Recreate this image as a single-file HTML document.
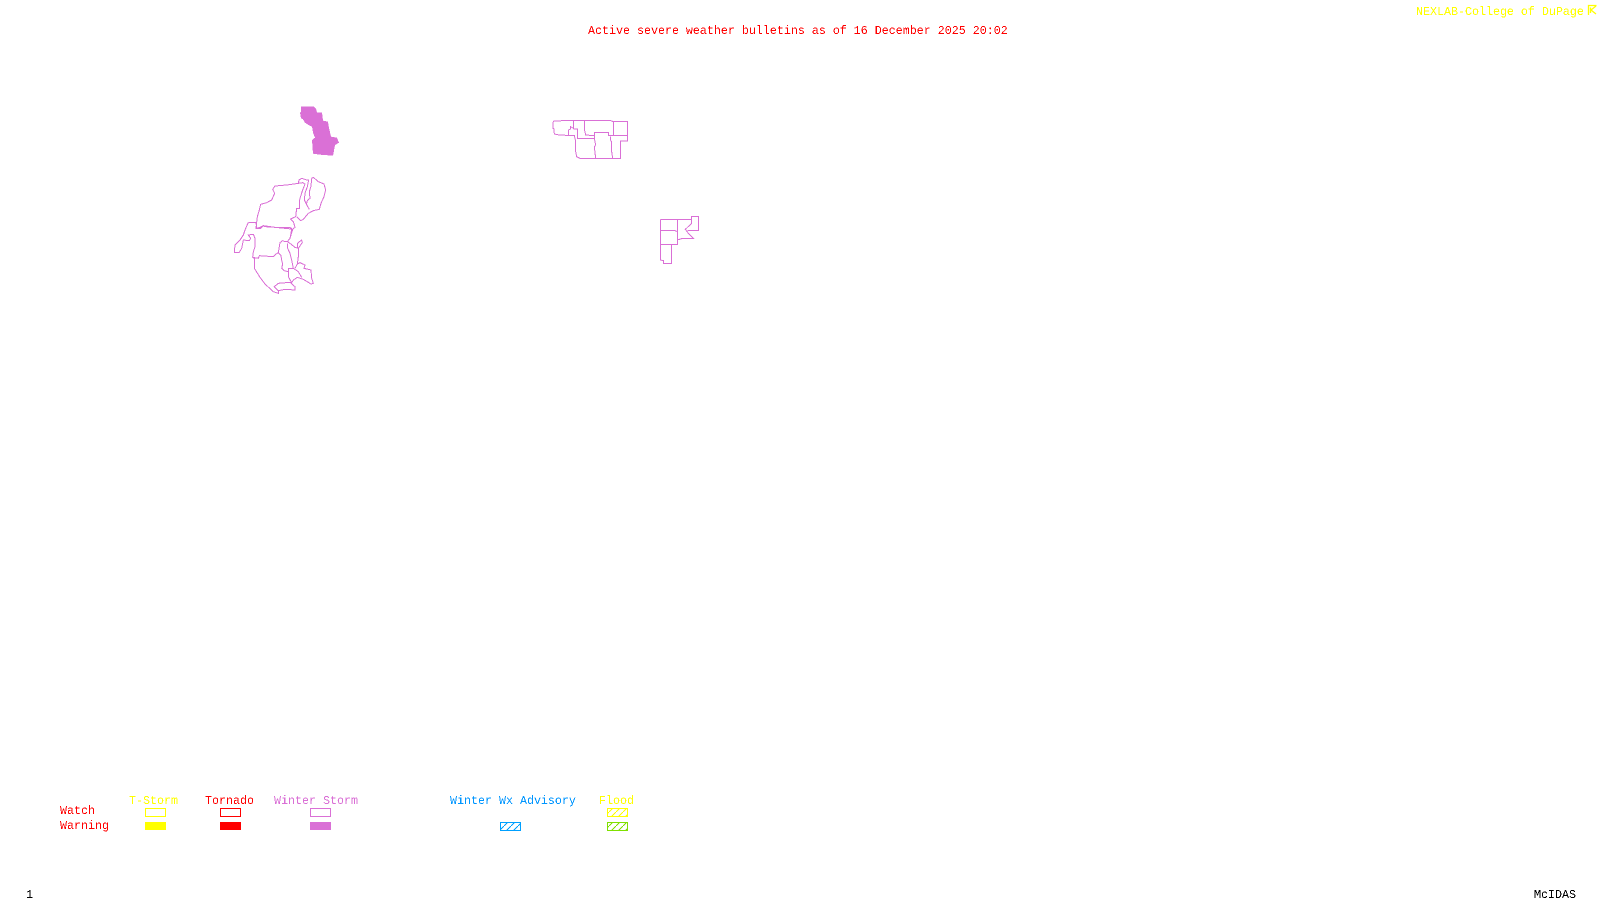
<!DOCTYPE html>
<html>
<head>
<meta charset="utf-8">
<style>
html,body{margin:0;padding:0;background:#fff;width:1600px;height:900px;overflow:hidden}
svg{display:block}
text{font-family:"Liberation Mono",monospace;font-size:11.67px}
</style>
</head>
<body>
<svg width="1600" height="900" viewBox="0 0 1600 900" xmlns="http://www.w3.org/2000/svg">
<defs>
<filter id="t" x="-5%" y="-50%" width="110%" height="200%"><feComponentTransfer><feFuncA type="discrete" tableValues="0 0 1 1"/></feComponentTransfer></filter>
<pattern id="hb" width="7" height="7" patternUnits="userSpaceOnUse"><path d="M-1 8L8 -1" stroke="#00a0ff" stroke-width="1" shape-rendering="crispEdges"/></pattern>
<pattern id="hy" width="7" height="7" patternUnits="userSpaceOnUse"><path d="M-1 8L8 -1" stroke="#ffff00" stroke-width="1" shape-rendering="crispEdges"/></pattern>
<pattern id="hg" width="7" height="7" patternUnits="userSpaceOnUse"><path d="M-1 8L8 -1" stroke="#7fe000" stroke-width="1" shape-rendering="crispEdges"/></pattern>
</defs>

<g filter="url(#t)">
<text x="588" y="34" fill="#ff0000">Active severe weather bulletins as of 16 December 2025 20:02</text>
<text x="1416" y="15" fill="#ffff00">NEXLAB-College of DuPage</text>
<text x="129" y="804" fill="#ffff00">T-Storm</text>
<text x="205" y="804" fill="#ff0000">Tornado</text>
<text x="274" y="804" fill="#da70d6">Winter Storm</text>
<text x="450" y="804" fill="#0096ff">Winter Wx Advisory</text>
<text x="599" y="804" fill="#ffff00">Flood</text>
<text x="60" y="814" fill="#ff0000">Watch</text>
<text x="60" y="829" fill="#ff0000">Warning</text>
<text x="26" y="898" fill="#000">1</text>
<text x="1534" y="898" fill="#000">McIDAS</text>
</g>

<path d="M1588.500 15V5.500H1596.500M1590.500 7.500V13M1591 10L1596 6M1591 10L1596 14" fill="none" stroke="#ffff00" stroke-width="1.300"/>

<!-- filled zone -->
<g transform="translate(210,90) scale(0.33333)" shape-rendering="crispEdges">
<path d="M273 50L312 50L318 56L321 68L336 68L339 92L354 95L357 113L363 140L381 143L387 158L375 165L372 182L369 197L330 194L309 191L306 150L315 143L309 128L306 110L294 104L285 98L279 88L273 85L270 68L273 65Z" fill="#da70d6"/>
</g>

<!-- west outlines, upper -->
<g transform="translate(250,170) scale(0.33333)" fill="none" stroke="#da70d6" stroke-width="3" shape-rendering="crispEdges">
<path d="M0 157L20 157L22 140L28 120L32 103L50 98L65 90L74 70L68 58L75 48L110 45L145 40L147 30L155 25L170 30L176 30L172 50L165 70L163 90L172 108L178 118"/>
<path d="M145 40L158 38L165 42L158 60L150 85L148 95L148 115L140 115L137 140L122 147L130 155L135 172L128 178L120 205"/>
<path d="M185 25L190 22L205 35L222 42L227 60L222 80L213 100L208 118L190 122L175 130L160 148L152 152L140 140"/>
<path d="M185 25L183 48L178 65L180 85L172 92L170 100"/>
<path d="M20 157L18 175L32 175L40 167L75 172L125 177"/>
</g>

<!-- west outlines, lower -->
<g transform="translate(210,190) scale(0.33333)" fill="none" stroke="#da70d6" stroke-width="3" shape-rendering="crispEdges">
<path d="M115 97L138 97L140 115L150 112L160 107L165 110L195 112L240 113"/>
<path d="M115 97L105 120L100 135L90 150L75 165L73 187L88 187L95 175L100 150L118 152L122 145L115 135L130 133L135 145L135 170L130 185L128 202L133 205L133 235L150 262L165 282L190 305L205 310L205 302L193 290L205 280L240 277L255 290L255 300L225 298L205 302"/>
<path d="M240 113L245 115L243 130L240 145L232 155L225 155L218 152L210 158L207 175L205 188L198 192L190 200L148 197L145 205L128 202"/>
<path d="M205 188L213 197L215 210L218 222L215 235L222 242L235 245"/>
<path d="M232 160L233 175L240 190L245 210L248 225L250 235L235 235L236 262L245 278"/>
<path d="M232 155L240 160L255 172L265 175L265 200L262 222L255 235"/>
<path d="M262 172L262 160L275 150L277 157L270 168L265 175"/>
<path d="M262 222L270 218L285 225L282 235L303 240L305 265L310 280L303 282L280 268L262 262L250 270L245 278L240 277"/>
<path d="M250 235L265 245L275 262"/>
</g>

<!-- central outlines -->
<g transform="translate(530,105) scale(0.33333)" fill="none" stroke="#da70d6" stroke-width="3" shape-rendering="crispEdges">
<path d="M72 48L130 46L240 46L250 50L292 50L292 108L272 108L272 160L150 160L140 155L137 140L136 105L133 92L88 90L73 87L72 72L69 70L69 52Z"/>
<path d="M130 46L130 70L122 65L122 72L115 75L115 90"/>
<path d="M130 72L142 72L142 100L193 100L193 83L236 83L236 92L292 92"/>
<path d="M163 46L163 72L167 90L193 92"/>
<path d="M250 50L250 92"/>
<path d="M193 100L197 120L193 125L197 160"/>
<path d="M241 95L241 105L245 110L245 140L248 160"/>
<path d="M391 343L485 343L485 334L506 334L506 376L472 376"/>
<path d="M391 343L391 465L400 467L400 475L424 475L424 418L442 418L442 405L458 400L490 400L475 385L466 373L485 355L485 343"/>
<path d="M442 343L442 405"/>
<path d="M391 376L433 376L442 380"/>
<path d="M391 418L424 418"/>
</g>

<!-- legend -->
<g shape-rendering="crispEdges" fill="none">
<rect x="145.500" y="808.500" width="20" height="8" stroke="#ffff00"/>
<rect x="145" y="822" width="21" height="8" fill="#ffff00"/>
<rect x="220.500" y="808.500" width="20" height="8" stroke="#ff0000"/>
<rect x="220" y="822" width="21" height="8" fill="#ff0000"/>
<rect x="310.500" y="808.500" width="20" height="8" stroke="#da70d6"/>
<rect x="310" y="822" width="21" height="8" fill="#da70d6"/>
<rect x="500.500" y="822.500" width="20" height="8" stroke="#00a0ff" fill="url(#hb)"/>
<rect x="607.500" y="808.500" width="20" height="8" stroke="#ffff00" fill="url(#hy)"/>
<rect x="607.500" y="822.500" width="20" height="8" stroke="#7fe000" fill="url(#hg)"/>
</g>
</svg>
</body>
</html>
